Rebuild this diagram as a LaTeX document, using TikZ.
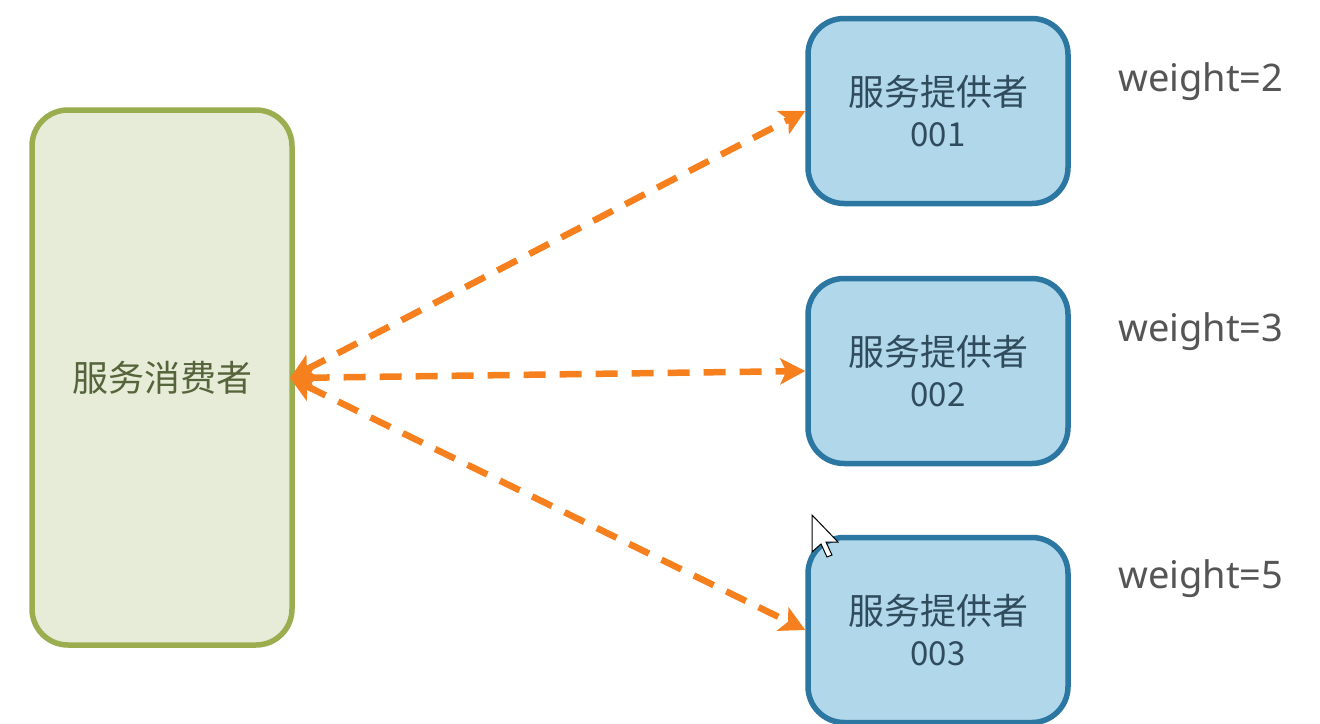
\documentclass[tikz,border=0pt]{standalone}
\usepackage{fontspec}
\setmainfont{Noto Sans}
\newfontfamily\cjk{Noto Sans CJK SC}
\usetikzlibrary{arrows.meta}
\definecolor{consfill}{HTML}{E6ECD8}
\definecolor{consdraw}{HTML}{9AAE50}
\definecolor{provfill}{HTML}{B1D7EA}
\definecolor{provdraw}{HTML}{2B77A1}
\definecolor{arrowc}{HTML}{F7801E}
\definecolor{txtgray}{HTML}{555555}
\definecolor{provtxt}{HTML}{2F4B5C}
\definecolor{constxt}{HTML}{55643A}
\begin{document}
\begin{tikzpicture}[x=1pt,y=-1pt,
  consbox/.style={draw=consdraw,fill=consfill,line width=5.5pt,rounded corners=36pt,minimum width=260pt,minimum height=535pt,inner sep=0pt,text=constxt,font=\cjk\fontsize{36}{42}\selectfont},
  provbox/.style={draw=provdraw,fill=provfill,line width=5.5pt,rounded corners=36pt,minimum width=260pt,minimum height=185pt,inner sep=0pt,text=provtxt,align=center,font=\cjk\fontsize{36}{41}\selectfont},
  wlabel/.style={text=txtgray,font=\fontsize{38}{44}\selectfont,anchor=west,inner sep=0pt},
  link/.style={draw=arrowc,line width=6.5pt,dash pattern=on 22pt off 14pt,{Stealth[length=25pt,width=26pt,inset=6pt]}-{Stealth[length=25pt,width=26pt,inset=6pt]}}
]
\useasboundingbox (0,0) rectangle (1320,723);
\fill[white] (0,0) rectangle (1320,723);
\node[consbox] (cons) at (162,377.5) {服务消费者};
\node[provbox] (p1) at (938,111) {服务提供者\\{\cjk\fontsize{33}{38}\selectfont 001}};
\node[provbox] (p2) at (938,371) {服务提供者\\{\cjk\fontsize{33}{38}\selectfont 002}};
\node[provbox] (p3) at (938,630) {服务提供者\\{\cjk\fontsize{33}{38}\selectfont 003}};
\node[wlabel] (w1) at (1118,82) {weight=2};
\node[wlabel] (w2) at (1118,332) {weight=3};
\node[wlabel] (w3) at (1118,579) {weight=5};
\coordinate (c) at (290,378);
\draw[link] (c) -- (p1.west);
\draw[link] (c) -- (p2.west);
\draw[link] (c) -- (p3.west);
% mouse cursor
\filldraw[fill=white,draw=black,line width=1pt] (812,515) -- (812,552) -- (821,544) -- (827,557) -- (832,555) -- (826,542) -- (838,542) -- cycle;
\end{tikzpicture}
\end{document}
